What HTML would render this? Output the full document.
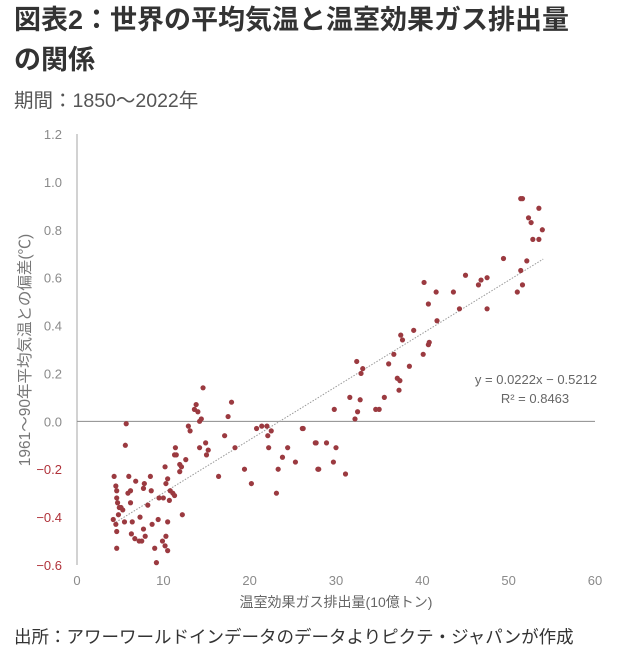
<!DOCTYPE html>
<html><head><meta charset="utf-8">
<style>
body{margin:0;background:#fff;width:627px;height:655px;overflow:hidden;font-family:"Liberation Sans","Noto Sans CJK JP",sans-serif;}
.title{position:absolute;left:14px;top:0px;font-size:27px;font-weight:bold;color:#333;line-height:40px;width:615px;}
.period{position:absolute;left:14px;top:84px;font-size:19.5px;color:#555;}
.footer{position:absolute;left:14px;top:624px;font-size:17.5px;color:#333;}
svg{position:absolute;left:0;top:0;}
</style></head><body>
<div class="title">図表2：世界の平均気温と温室効果ガス排出量<br>の関係</div>
<div class="period">期間：1850～2022年</div>
<div class="footer">出所：アワーワールドインデータのデータよりピクテ・ジャパンが作成</div>
<svg id="chart" width="627" height="655"></svg>
<script>
const xTicks=[0,10,20,30,40,50,60];
const yTicks=[-0.6,-0.4,-0.2,0.0,0.2,0.4,0.6,0.8,1.0,1.2];
const emissions=[4.3,4.5,4.6,4.6,4.7,4.9,5.1,5.3,4.2,4.5,4.6,4.6,4.8,5.5,5.7,5.6,6.0,5.9,6.2,6.2,6.4,6.3,6.7,6.8,7.3,7.2,7.5,7.7,7.9,7.8,7.7,8.2,8.5,8.6,8.7,9.0,9.2,9.4,9.5,10.0,10.2,10.3,10.5,9.9,10.2,10.5,10.3,10.5,10.8,10.7,11.1,11.3,11.4,11.3,11.5,11.9,11.9,12.2,12.1,12.6,12.9,13.1,13.8,13.6,14.0,14.2,14.4,14.6,14.2,14.9,15.0,15.2,16.4,17.1,17.5,17.9,18.3,19.4,20.2,20.8,21.4,22.0,22.1,22.5,22.2,23.1,23.3,23.8,24.4,25.3,26.1,27.6,27.9,
26.2,27.7,28.9,30.0,29.7,28.0,31.1,29.8,31.6,32.8,32.2,32.5,32.4,33.1,32.9,34.6,35.0,35.6,36.1,36.7,37.1,37.4,37.3,37.5,37.7,38.5,39.0,40.1,40.2,40.7,40.8,40.7,41.6,41.7,43.6,44.3,45.0,46.5,46.8,47.5,47.5,49.4,51.0,51.4,51.6,52.1,51.4,51.6,52.3,52.6,52.8,53.5,53.5,53.9];
const anomalies=[-0.23,-0.27,-0.29,-0.32,-0.34,-0.36,-0.36,-0.37,-0.41,-0.43,-0.46,-0.53,-0.39,-0.42,-0.01,-0.10,-0.23,-0.30,-0.29,-0.34,-0.42,-0.47,-0.49,-0.25,-0.40,-0.50,-0.50,-0.45,-0.48,-0.26,-0.28,-0.35,-0.23,-0.29,-0.43,-0.53,-0.59,-0.41,-0.32,-0.32,-0.19,-0.26,-0.24,-0.50,-0.52,-0.54,-0.48,-0.42,-0.29,-0.33,-0.30,-0.31,-0.11,-0.14,-0.14,-0.18,-0.21,-0.39,-0.19,-0.16,-0.02,-0.04,0.07,0.05,0.04,0.00,0.01,0.14,-0.11,-0.09,-0.14,-0.12,-0.23,-0.06,0.02,0.08,-0.11,-0.20,-0.26,-0.03,-0.02,-0.02,-0.06,-0.04,-0.11,-0.30,-0.20,-0.15,-0.11,-0.17,-0.03,-0.09,-0.20,
-0.03,-0.09,-0.09,-0.11,-0.17,-0.20,-0.22,0.05,0.10,0.09,0.01,0.04,0.25,0.22,0.20,0.05,0.05,0.10,0.24,0.28,0.18,0.17,0.13,0.36,0.34,0.23,0.38,0.28,0.58,0.32,0.33,0.49,0.54,0.42,0.54,0.47,0.61,0.57,0.59,0.60,0.47,0.68,0.54,0.63,0.57,0.67,0.93,0.93,0.85,0.83,0.76,0.76,0.89,0.80];
const slope=0.0222, intercept=-0.5212, trendRange=[4.5,54];
const X0=77,X1=595,Y0=565,Y1=134;
const xs=v=>X0+(v-0)/(60-0)*(X1-X0);
const ys=v=>Y0-(v+0.6)/(1.8)*(Y0-Y1);
const NS="http://www.w3.org/2000/svg",svg=document.getElementById('chart');
function mk(t,a,txt){const e=document.createElementNS(NS,t);for(const k in a)e.setAttribute(k,a[k]);if(txt!=null)e.textContent=txt;svg.appendChild(e);return e;}
let e=mk('line',{x1:X0,y1:Y1,x2:X0,y2:Y0,stroke:'#a6a6a6','stroke-width':1});


e=mk('line',{x1:X0,y1:ys(0),x2:X1,y2:ys(0),stroke:'#8c8c8c','stroke-width':1});


yTicks.forEach(v=>{
 const t=mk('text',{x:62,y:ys(v)+5,'text-anchor':'end','font-size':13,fill:v<0?'#b0323a':'#8a8a8a','font-family':'Liberation Sans Narrow, Liberation Sans, sans-serif'},(v<0?'−':'')+Math.abs(v).toFixed(1));
 
 
});
xTicks.forEach(v=>{
 const t=mk('text',{x:xs(v),y:585,'text-anchor':'middle','font-size':13,fill:'#8a8a8a','font-family':'Liberation Sans Narrow, Liberation Sans, sans-serif'},String(v));
 
 
});
e=mk('line',{x1:xs(trendRange[0]),y1:ys(slope*trendRange[0]+intercept),x2:xs(trendRange[1]),y2:ys(slope*trendRange[1]+intercept),stroke:'#999','stroke-width':1,'stroke-dasharray':'1.5,1.5'});


emissions.forEach((x,i)=>{
 const c=mk('circle',{cx:xs(x),cy:ys(anomalies[i]),r:2.6,fill:'#9b3a40'});
 
 
});
e=mk('text',{x:536,y:384,'text-anchor':'middle','font-size':13,fill:'#666','font-family':'Liberation Sans Narrow, Liberation Sans, sans-serif'},'y = 0.0222x − 0.5212');


e=mk('text',{x:535,y:403,'text-anchor':'middle','font-size':13,fill:'#666','font-family':'Liberation Sans Narrow, Liberation Sans, sans-serif'},'R² = 0.8463');


e=mk('text',{x:336,y:607,'text-anchor':'middle','font-size':14,fill:'#666'},'温室効果ガス排出量(10億トン)');


e=mk('text',{x:0,y:0,'text-anchor':'middle','font-size':15.5,fill:'#777',transform:'translate(30,350) rotate(-90)'},'1961～90年平均気温との偏差(℃)');


</script>
</body></html>
